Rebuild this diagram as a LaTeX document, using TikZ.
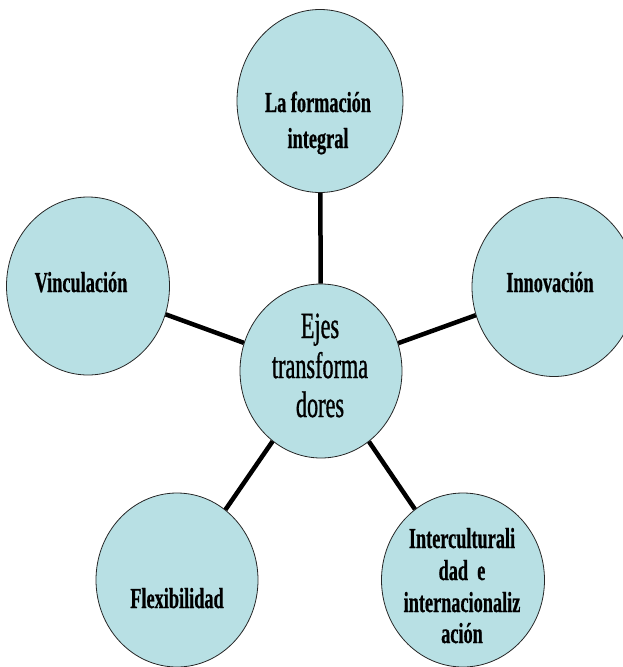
\documentclass[tikz,border=0pt]{standalone}
\usepackage{fontspec}
\setmainfont{Liberation Serif}
\newfontfamily\lblfont[FakeStretch=0.63, FakeBold=0.6]{Liberation Serif}
\newfontfamily\ctrfont[FakeStretch=0.6, FakeBold=0.8]{Liberation Serif}
\usetikzlibrary{shapes.geometric}
\definecolor{bubble}{RGB}{184,224,228}
\tikzset{
  bubblenode/.style={ellipse, draw=black!85, line width=0.8pt, fill=bubble, inner sep=0pt},
  spoke/.style={line width=4.5pt, black},
  lbl/.style={anchor=base, inner sep=0pt, font=\lblfont\bfseries\fontsize{29}{29}\selectfont},
  ctr/.style={anchor=base, inner sep=0pt, font=\ctrfont\fontsize{37}{37}\selectfont}
}
\begin{document}
\begin{tikzpicture}[x=1pt, y=-1pt]
\useasboundingbox (0,0) rectangle (623,667);
% circles
\node[bubblenode, minimum width=166pt, minimum height=183pt] (top) at (320,101) {};
\node[bubblenode, minimum width=162pt, minimum height=174pt] (ctr) at (321,371) {};
\node[bubblenode, minimum width=163pt, minimum height=178pt] (vin) at (88,286) {};
\node[bubblenode, minimum width=164pt, minimum height=179pt] (inn) at (554,287) {};
\node[bubblenode, minimum width=162pt, minimum height=174pt] (flx) at (177,580) {};
\node[bubblenode, minimum width=163pt, minimum height=174pt] (itc) at (463,580) {};
% spokes
\draw[spoke] (ctr) -- (top);
\draw[spoke] (ctr) -- (vin);
\draw[spoke] (ctr) -- (inn);
\draw[spoke] (ctr) -- (flx);
\draw[spoke] (ctr) -- (itc);
% texts
\node[lbl] (t1) at (318,112) {La formación};
\node[lbl] (t2) at (318,148) {integral};
\node[lbl] (t3) at (81,292) {Vinculación};
\node[lbl] (t4) at (550,292) {Innovación};
\node[lbl] (t5) at (177,608) {Flexibilidad};
\node[lbl] (t6) at (462,548) {Interculturali};
\node[lbl] (t7) at (462,580) {dad\ \ e};
\node[lbl] (t8) at (462,612) {internacionaliz};
\node[lbl] (t9) at (462,643) {ación};
\node[ctr] (c1) at (320,338) {Ejes};
\node[ctr] (c2) at (320,378) {transforma};
\node[ctr] (c3) at (320,417) {dores};
\end{tikzpicture}
\end{document}
